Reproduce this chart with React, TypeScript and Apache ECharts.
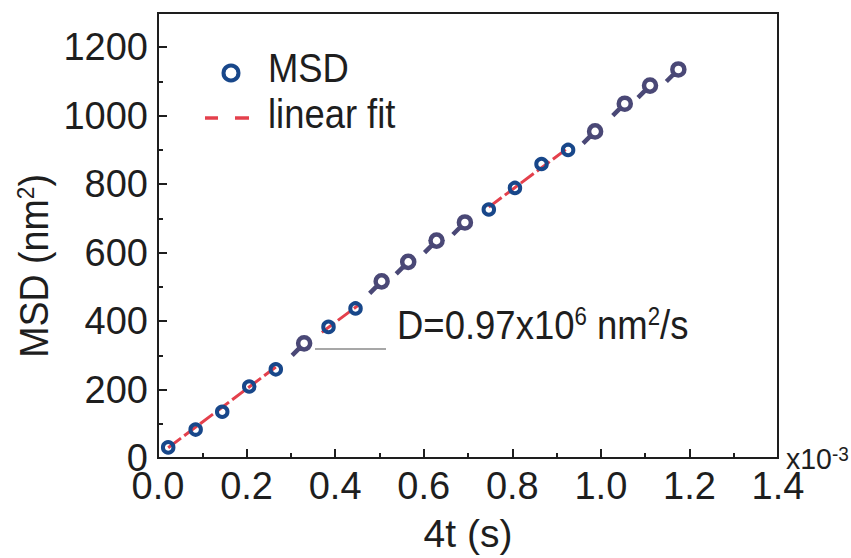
import React, { useEffect, useRef } from 'react';
import * as echarts from 'echarts';

// MSD data points (x in units of 1e-3 s, y in nm^2)
const blueX = [0.023, 0.085, 0.145, 0.206, 0.266, 0.385, 0.446, 0.747, 0.806, 0.866, 0.926];
const blueY = [31, 83, 135, 209, 259, 383, 437, 726, 789, 859, 900];
const purpleX = [0.33, 0.505, 0.565, 0.629, 0.693, 0.987, 1.054, 1.111, 1.175];
const purpleY = [335, 516, 573, 635, 688, 954, 1035, 1088, 1135];

// visible pieces of the linear fit
const fitStartX = [0.023, 0.37, 0.747];
const fitStartY = [30, 367, 733];
const fitEndX = [0.266, 0.455, 0.926];
const fitEndY = [266, 449, 906];

const xMin = 0;
const xMax = 1.4;
const xInterval = 0.2;
const yMin = 0;
const yMax = 1300;
const yInterval = 200;

const FONT = "'Liberation Sans', Arial, sans-serif";
const INK = '#1e1e1e';
const BLUE = '#18478a';
const PURPLE = '#4a4876';
const RED = '#e4404c';

const PURPLE_SYMBOL =
  'path://M14.5,6 A4.5,4.5 0 1,1 5.5,6 A4.5,4.5 0 1,1 14.5,6 Z M6.82,9.18 L1,15';

export default function App() {
  const ref = useRef<HTMLDivElement>(null);
  useEffect(() => {
    const chart = echarts.init(ref.current!, null, { renderer: 'svg' });
    const fitSeries = fitStartX.map((x, i) => ({
      type: 'line',
      data: [[x, fitStartY[i]], [fitEndX[i], fitEndY[i]]],
      showSymbol: false,
      symbol: 'none',
      lineStyle: { color: RED, width: 3, type: [16, 4] },
      z: 2,
      silent: true,
    }));
    const option: any = {
      animation: false,
      backgroundColor: '#ffffff',
      grid: {
        left: 158,
        right: 73,
        top: 13,
        bottom: 89,
        show: true,
        borderColor: INK,
        borderWidth: 2,
        backgroundColor: 'transparent',
      },
      xAxis: {
        type: 'value',
        min: xMin,
        max: xMax,
        interval: xInterval,
        name: '4t (s)',
        nameLocation: 'middle',
        nameGap: 56,
        nameTextStyle: { fontFamily: FONT, fontSize: 39, color: INK },
        axisLine: { show: true, lineStyle: { color: INK, width: 2 } },
        axisTick: { show: true, inside: true, length: 9, lineStyle: { color: INK, width: 2 } },
        minorTick: { show: true, splitNumber: 2, length: 5, lineStyle: { color: INK, width: 2 } },
        splitLine: { show: false },
        minorSplitLine: { show: false },
        axisLabel: {
          fontFamily: FONT,
          fontSize: 38,
          color: INK,
          margin: 9,
          formatter: (v: number) => v.toFixed(1),
        },
      },
      yAxis: {
        type: 'value',
        min: yMin,
        max: yMax,
        interval: yInterval,
        axisLine: { show: true, lineStyle: { color: INK, width: 2 } },
        axisTick: { show: true, inside: true, length: 9, lineStyle: { color: INK, width: 2 } },
        minorTick: { show: true, splitNumber: 2, length: 5, lineStyle: { color: INK, width: 2 } },
        splitLine: { show: false },
        minorSplitLine: { show: false },
        axisLabel: {
          fontFamily: FONT,
          fontSize: 38,
          color: INK,
          margin: 10,
          padding: [0, 0, 6, 0],
          showMaxLabel: false,
          formatter: (v: number) => String(v),
        },
      },
      series: [
        ...fitSeries,
        {
          type: 'scatter',
          name: 'MSD',
          data: blueX.map((x, i) => [x, blueY[i]]),
          symbol: 'circle',
          symbolSize: 10.5,
          itemStyle: { color: 'rgba(0,0,0,0)', borderColor: BLUE, borderWidth: 4, opacity: 1 },
          z: 3,
        },
        {
          type: 'scatter',
          name: 'MSD ',
          data: purpleX.map((x, i) => [x, purpleY[i]]),
          symbol: PURPLE_SYMBOL,
          symbolSize: 18,
          symbolOffset: [-3, 3],
          itemStyle: { color: 'rgba(0,0,0,0)', borderColor: PURPLE, borderWidth: 4.5, opacity: 1 },
          z: 3,
        },
      ],
      graphic: [
        // y axis title
        {
          type: 'text',
          x: 34,
          y: 266,
          rotation: Math.PI / 2,
          scaleX: 0.94,
          style: {
            text: '{m|MSD (nm}{s|2}{m|)}',
            align: 'center',
            verticalAlign: 'middle',
            fill: INK,
            rich: {
              m: { fontFamily: FONT, fontSize: 40, fill: INK, color: INK },
              s: { fontFamily: FONT, fontSize: 24, fill: INK, color: INK, verticalAlign: 'top' },
            },
          },
        },
        // x10^-3
        {
          type: 'text',
          x: 786,
          y: 459,
          scaleX: 0.95,
          style: {
            text: '{m|x10}{s|-3}',
            align: 'left',
            verticalAlign: 'middle',
            fill: INK,
            rich: {
              m: { fontFamily: FONT, fontSize: 30, fill: INK, color: INK },
              s: { fontFamily: FONT, fontSize: 20, fill: INK, color: INK, verticalAlign: 'top' },
            },
          },
        },
        // legend
        {
          type: 'circle',
          shape: { cx: 231, cy: 73, r: 7.5 },
          style: { fill: 'none', stroke: BLUE, lineWidth: 4 },
        },
        {
          type: 'line',
          shape: { x1: 205, y1: 118, x2: 218, y2: 118 },
          style: { stroke: RED, lineWidth: 3.5 },
        },
        {
          type: 'line',
          shape: { x1: 235, y1: 118, x2: 249, y2: 118 },
          style: { stroke: RED, lineWidth: 3.5 },
        },
        {
          type: 'text',
          x: 268,
          y: 67.5,
          scaleX: 0.91,
          style: { text: 'MSD', fontFamily: FONT, fontSize: 40, fill: INK, align: 'left', verticalAlign: 'middle' },
        },
        {
          type: 'text',
          x: 268,
          y: 114,
          scaleX: 0.91,
          style: { text: 'linear fit', fontFamily: FONT, fontSize: 40, fill: INK, align: 'left', verticalAlign: 'middle' },
        },
        // annotation
        {
          type: 'line',
          shape: { x1: 315, y1: 349, x2: 386, y2: 349 },
          style: { stroke: '#8a8a8a', lineWidth: 1.5 },
        },
        {
          type: 'text',
          x: 397,
          y: 325,
          scaleX: 0.89,
          style: {
            text: '{m|D=0.97x10}{s|6}{m| nm}{s|2}{m|/s}',
            align: 'left',
            verticalAlign: 'middle',
            fill: INK,
            rich: {
              m: { fontFamily: FONT, fontSize: 41, fill: INK, color: INK },
              s: { fontFamily: FONT, fontSize: 25, fill: INK, color: INK, verticalAlign: 'top' },
            },
          },
        },
      ],
    };
    chart.setOption(option);
    return () => chart.dispose();
  }, []);
  return (
    <div
      ref={ref}
      style={{ position: 'fixed', left: 0, top: 0, width: 851, height: 558, background: '#ffffff' }}
    />
  );
}
